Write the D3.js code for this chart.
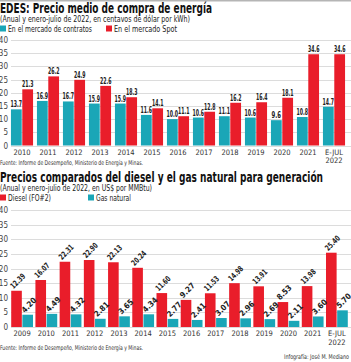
<!DOCTYPE html>
<html>
<head>
<meta charset="utf-8">
<script src="https://cdn.jsdelivr.net/npm/d3@7"></script>
<style>
  body { margin: 0; background: #fff; }
  svg text { font-family: "Liberation Sans Narrow", "DejaVu Sans Condensed", "Roboto", sans-serif; }
</style>
</head>
<body>
<div id="chart"></div>
<script>
const teal = "#1aa6b7";
const red = "#e91d2a";

// Grafico 1 - EDES
const years1 = ["2010","2011","2012","2013","2014","2015","2016","2017","2018","2019","2020","2021","E-JUL 2022"];
const contratos = [13.7, 16.9, 16.7, 15.9, 15.9, 11.6, 10.0, 10.6, 11.1, 10.6, 9.6, 10.8, 14.7];
const spot = [21.3, 26.2, 24.9, 22.6, 18.3, 14.1, 11.1, 12.8, 16.2, 16.4, 18.1, 34.6, 34.6];

// Grafico 2 - diesel vs gas
const years2 = ["2009","2010","2011","2012","2013","2014","2015","2016","2017","2018","2019","2020","2021","E-JUL 2022"];
const diesel = [12.39, 16.07, 22.31, 22.90, 22.13, 20.24, 11.60, 9.27, 11.53, 14.98, 13.91, 8.53, 13.98, 25.40];
const gas = [4.20, 4.49, 4.32, 2.81, 3.65, 4.34, 2.77, 2.41, 3.07, 2.96, 2.69, 2.11, 3.60, 5.70];

const yTicks = [0, 5, 10, 15, 20, 25, 30, 35, 40];

const W = 351, H = 362;
const svg = d3.select("#chart").append("svg")
    .attr("width", W)
    .attr("height", H);

svg.append("line")
    .attr("x1", 0).attr("x2", W)
    .attr("y1", 0.5).attr("y2", 0.5)
    .attr("stroke", "#b5b5b5")
    .attr("stroke-width", 2);

function fitText(sel, len) {
    return sel.attr("textLength", len).attr("lengthAdjust", "spacingAndGlyphs");
}

function header(y, title, titleLen, sub, subLen, legend) {
    fitText(svg.append("text")
        .attr("x", 0).attr("y", y)
        .attr("font-size", "14.5px")
        .attr("font-weight", "bold")
        .attr("fill", "#111")
        .text(title), titleLen);
    fitText(svg.append("text")
        .attr("x", 0).attr("y", y + 9)
        .attr("font-size", "8.5px")
        .attr("fill", "#222")
        .text(sub), subLen);
    legend.forEach(l => {
        svg.append("rect")
            .attr("x", l.x).attr("y", y + 12.5)
            .attr("width", 6).attr("height", 6)
            .attr("fill", l.color);
        fitText(svg.append("text")
            .attr("x", l.x + 8).attr("y", y + 18.5)
            .attr("font-size", "8.5px")
            .attr("fill", "#222")
            .text(l.label), l.len);
    });
}

function barChart(opt) {
    const y = d3.scaleLinear().domain([0, 40]).range([opt.y0, opt.y40]);
    const x = d3.scaleBand().domain(opt.cats).range(opt.xr).paddingInner(opt.pad).paddingOuter(opt.pad / 2);
    const xs = d3.scaleBand().domain(d3.range(opt.series.length)).range([0, x.bandwidth()]).paddingInner(0.05);

    const g = svg.append("g");

    // rejilla
    g.selectAll("line.grid")
        .data(yTicks)
        .enter().append("line")
        .attr("x1", 11).attr("x2", W)
        .attr("y1", d => Math.round(y(d)) + 0.5)
        .attr("y2", d => Math.round(y(d)) + 0.5)
        .attr("stroke", "#dcdcdc")
        .attr("stroke-width", 1);

    g.selectAll("text.tick")
        .data(yTicks)
        .enter().append("text")
        .attr("x", 8)
        .attr("y", d => y(d) + 3)
        .attr("text-anchor", "end")
        .attr("font-size", "8px")
        .attr("fill", "#444")
        .text(d => d);

    opt.series.forEach((s, i) => {
        g.selectAll(null)
            .data(s.values)
            .enter().append("rect")
            .attr("x", (d, j) => x(opt.cats[j]) + xs(i))
            .attr("y", d => y(d))
            .attr("width", xs.bandwidth())
            .attr("height", d => y(0) - y(d))
            .attr("fill", s.color);

        if (opt.rotate) {
            g.selectAll(null)
                .data(s.values)
                .enter().append("text")
                .attr("transform", (d, j) => {
                    const cx = x(opt.cats[j]) + xs(i) + xs.bandwidth() / 2 - 3;
                    return `translate(${cx},${y(d) - 1.5}) rotate(-45)`;
                })
                .attr("font-size", "8px")
                .attr("font-weight", "bold")
                .attr("fill", "#222")
                .attr("textLength", 17.5)
                .attr("lengthAdjust", "spacingAndGlyphs")
                .text(d => d.toFixed(2));
        } else {
            g.selectAll(null)
                .data(s.values)
                .enter().append("text")
                .attr("x", (d, j) => x(opt.cats[j]) + xs(i) + xs.bandwidth() / 2)
                .attr("y", d => y(d) - 2)
                .attr("text-anchor", "middle")
                .attr("font-size", "8px")
                .attr("font-weight", "bold")
                .attr("fill", "#222")
                .attr("textLength", d => d >= 10 ? 11.5 : 9.5)
                .attr("lengthAdjust", "spacingAndGlyphs")
                .text(d => d.toFixed(1));
        }
    });

    // etiquetas de años
    opt.cats.forEach(c => {
        const parts = c.split(" ");
        const t = g.append("text")
            .attr("x", x(c) + x.bandwidth() / 2)
            .attr("y", opt.y0 + 9)
            .attr("text-anchor", "middle")
            .attr("font-size", "7.5px")
            .attr("fill", "#333");
        parts.forEach((p, k) => {
            t.append("tspan")
                .attr("x", x(c) + x.bandwidth() / 2)
                .attr("dy", k === 0 ? 0 : 8.5)
                .text(p);
        });
    });

    fitText(svg.append("text")
        .attr("x", 0).attr("y", opt.fuenteY)
        .attr("font-size", "6.5px")
        .attr("fill", "#333")
        .text("Fuente: Informe de Desempeño, Ministerio de Energía y Minas."), 143);
}

header(13, "EDES: Precio medio de compra de energía", 212,
    "(Anual y enero-julio de 2022, en centavos de dólar por kWh)", 190,
    [{ x: 0, color: teal, label: "En el mercado de contratos", len: 84 },
     { x: 106, color: red, label: "En el mercado Spot", len: 63 }]);

barChart({
    cats: years1,
    series: [{ values: contratos, color: teal }, { values: spot, color: red }],
    y0: 145.5, y40: 40,
    xr: [9, 347], pad: 0.15,
    rotate: false,
    fuenteY: 165
});

header(182, "Precios comparados del diesel y el gas natural para generación", 323,
    "(Anual y enero-julio de 2022, en US$ por MMBtu)", 152,
    [{ x: 0, color: red, label: "Diesel (FO#2)", len: 43 },
     { x: 88, color: teal, label: "Gas natural", len: 35 }]);

barChart({
    cats: years2,
    series: [{ values: diesel, color: red }, { values: gas, color: teal }],
    y0: 327, y40: 210,
    xr: [10, 349], pad: 0.1,
    rotate: true,
    fuenteY: 350
});

fitText(svg.append("text")
    .attr("x", W - 2).attr("y", 359)
    .attr("text-anchor", "end")
    .attr("font-size", "6.5px")
    .attr("fill", "#333")
    .text("Infografía: José M. Mediano"), 65);
</script>
</body>
</html>
